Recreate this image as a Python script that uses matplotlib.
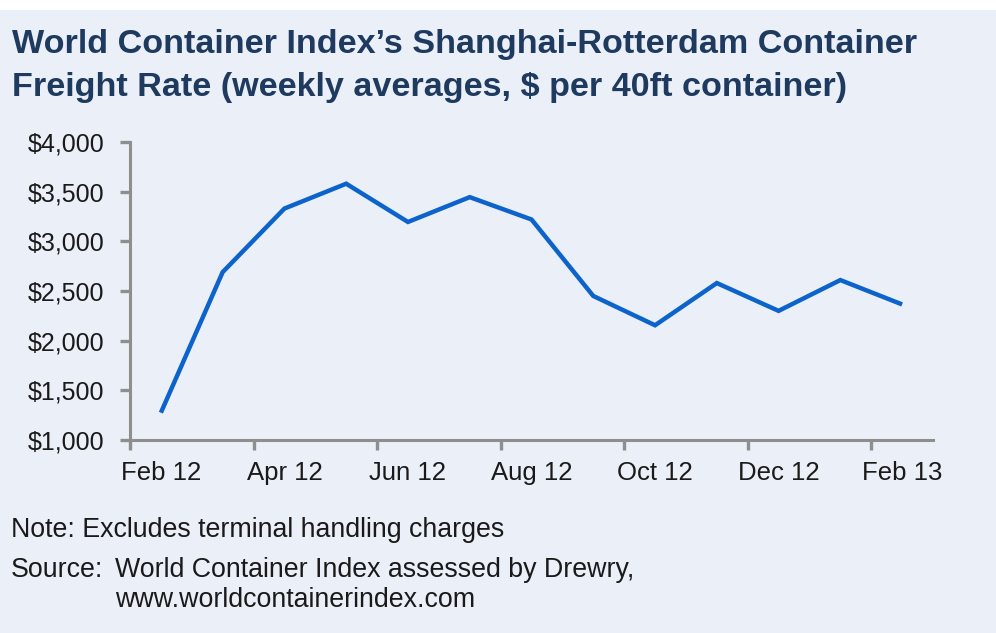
import matplotlib
matplotlib.use("Agg")
import matplotlib.pyplot as plt
from matplotlib.patches import Rectangle
import numpy as np

months = ["Feb 12", "Mar 12", "Apr 12", "May 12", "Jun 12", "Jul 12", "Aug 12",
          "Sep 12", "Oct 12", "Nov 12", "Dec 12", "Jan 13", "Feb 13"]
rates = [1275, 2690, 3330, 3580, 3195, 3445, 3220, 2450, 2155, 2580, 2300, 2610, 2365]
tick_labels = ["Feb 12", "Apr 12", "Jun 12", "Aug 12", "Oct 12", "Dec 12", "Feb 13"]
y_ticks = [1000, 1500, 2000, 2500, 3000, 3500, 4000]

title_lines = ["World Container Index\u2019s Shanghai-Rotterdam Container",
               "Freight Rate (weekly averages, $ per 40ft container)"]
note = "Note: Excludes terminal handling charges"
source_label = "Source:"
source_lines = ["World Container Index assessed by Drewry,", "www.worldcontainerindex.com"]

BG = "#EBEFF8"
AX = "#8E8E8E"
LINE = "#0B63CB"
TITLE_C = "#1E3A5F"
TXT = "#1a1a1a"
FONT = ["Liberation Sans", "DejaVu Sans"]

W, H = 996, 633
fig = plt.figure(figsize=(W / 100, H / 100), dpi=100)
fig.patch.set_facecolor("white")
fig.add_artist(Rectangle((0, 0), 1, (H - 10) / H, transform=fig.transFigure,
                         facecolor=BG, edgecolor="none", zorder=-10))

def fx(px):
    return px / W

def fy(py):
    return 1 - py / H

ax = fig.add_axes([fx(130), fy(440), fx(933) - fx(130), fy(142) - fy(440)])
ax.set_facecolor("none")

x = np.arange(len(months)) + 0.5
ax.plot(x, rates, color=LINE, lw=3.2, solid_joinstyle="miter", solid_capstyle="butt")

ax.set_xlim(0, len(months))
ax.set_ylim(1000, 4000)

for s in ["top", "right"]:
    ax.spines[s].set_visible(False)
for s in ["left", "bottom"]:
    ax.spines[s].set_color(AX)
    ax.spines[s].set_linewidth(2.2)

major_x = np.arange(0, len(months), 2)
ax.set_xticks(major_x)
ax.set_xticklabels([""] * len(major_x))
ax.set_xticks(major_x + 0.5, minor=True)
ax.set_xticklabels(tick_labels, minor=True)
ax.tick_params(axis="x", which="major", length=7.5, width=2.4, color=AX, direction="out")
ax.tick_params(axis="x", which="minor", length=0, pad=15, labelsize=18.5, labelcolor=TXT)

ax.set_yticks(y_ticks)
ax.set_yticklabels(["${:,}".format(v) for v in y_ticks])
ax.tick_params(axis="y", length=7.5, width=2.4, color=AX, pad=11, labelsize=18, labelcolor=TXT)
for lab in ax.get_xticklabels(minor=True) + ax.get_yticklabels():
    lab.set_family(FONT)

tfs = 24.6
fig.text(fx(12), fy(53), title_lines[0], fontsize=tfs, fontweight="bold", color=TITLE_C,
         family=FONT, va="baseline", ha="left")
fig.text(fx(12), fy(96), title_lines[1], fontsize=tfs, fontweight="bold", color=TITLE_C,
         family=FONT, va="baseline", ha="left")

fs = 19.3
fig.text(fx(11), fy(537), note, fontsize=fs, color=TXT, family=FONT, va="baseline", ha="left")
fig.text(fx(11), fy(577), source_label, fontsize=fs, color=TXT, family=FONT,
         va="baseline", ha="left")
fig.text(fx(115), fy(577), source_lines[0], fontsize=fs, color=TXT, family=FONT,
         va="baseline", ha="left")
fig.text(fx(115), fy(607), source_lines[1], fontsize=fs, color=TXT, family=FONT,
         va="baseline", ha="left")

fig.savefig("out.png", dpi=100, facecolor=fig.get_facecolor())
